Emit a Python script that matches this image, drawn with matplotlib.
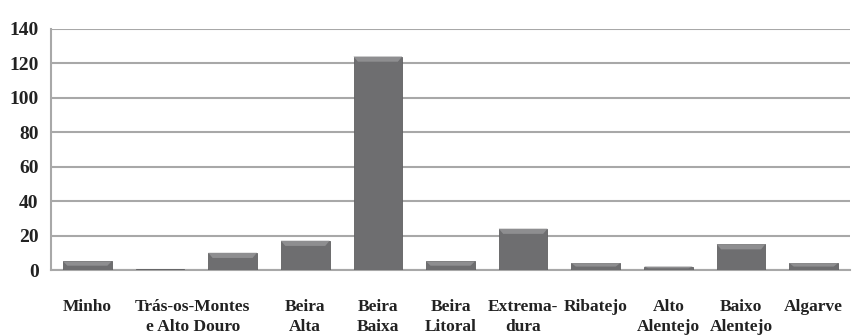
import matplotlib
matplotlib.use("Agg")
import matplotlib.pyplot as plt
from matplotlib.patches import Polygon
import numpy as np

values = [5, 0.6, 10, 17, 124, 5, 24, 4, 2, 15, 4]
tick_labels = ["Minho", "Trás-os-Montes\ne Alto Douro", "Beira\nAlta", "Beira\nBaixa",
               "Beira\nLitoral", "Extrema-\ndura", "Ribatejo", "Alto\nAlentejo",
               "Baixo\nAlentejo", "Algarve"]
tick_pos = [0, 1.45, 3, 4, 5, 6, 7, 8, 9, 10]
yticks = [0, 20, 40, 60, 80, 100, 120, 140]

plt.rcParams['font.family'] = ['Liberation Serif', 'DejaVu Serif']

fig = plt.figure(figsize=(8.56, 3.36), dpi=100)
ax = fig.add_axes([0.0596, 0.1964, 0.9334, 0.7173])

x = np.arange(len(values))
w = 0.67
ax.bar(x, values, width=w, color="#6e6e70", edgecolor="#606062", linewidth=0.6, zorder=3)

# bevel on top of each bar
bev = 3.0
for xi, v in zip(x, values):
    b = min(bev, v * 0.5)
    inset = 0.06 if v > 1 else 0.0
    poly = Polygon([(xi - w / 2, v), (xi + w / 2, v),
                    (xi + w / 2 - inset, v - b), (xi - w / 2 + inset, v - b)],
                   closed=True, facecolor="#8e8e90", edgecolor="none", zorder=4)
    ax.add_patch(poly)

ax.set_xlim(-0.5, len(values) - 0.5)
ax.set_ylim(0, 140)
ax.set_yticks(yticks)
ax.set_yticklabels([str(t) for t in yticks], fontsize=14, fontweight='bold', color="#222222")
ax.set_xticks(tick_pos)
ax.set_xticklabels(tick_labels, fontsize=12.5, fontweight='bold', color="#222222",
                   linespacing=1.3, va='top')
ax.tick_params(axis='both', length=0)
ax.tick_params(axis='x', pad=21)
ax.tick_params(axis='y', pad=9)
ax.grid(axis='y', color="#a8a8a8", linewidth=1.5, zorder=0)
for s in ['top', 'right']:
    ax.spines[s].set_visible(False)
ax.spines['left'].set_color("#a8a8a8")
ax.spines['left'].set_linewidth(1.5)
ax.spines['bottom'].set_color("#a8a8a8")
ax.spines['bottom'].set_linewidth(1.5)

fig.savefig("out.png", dpi=100)
